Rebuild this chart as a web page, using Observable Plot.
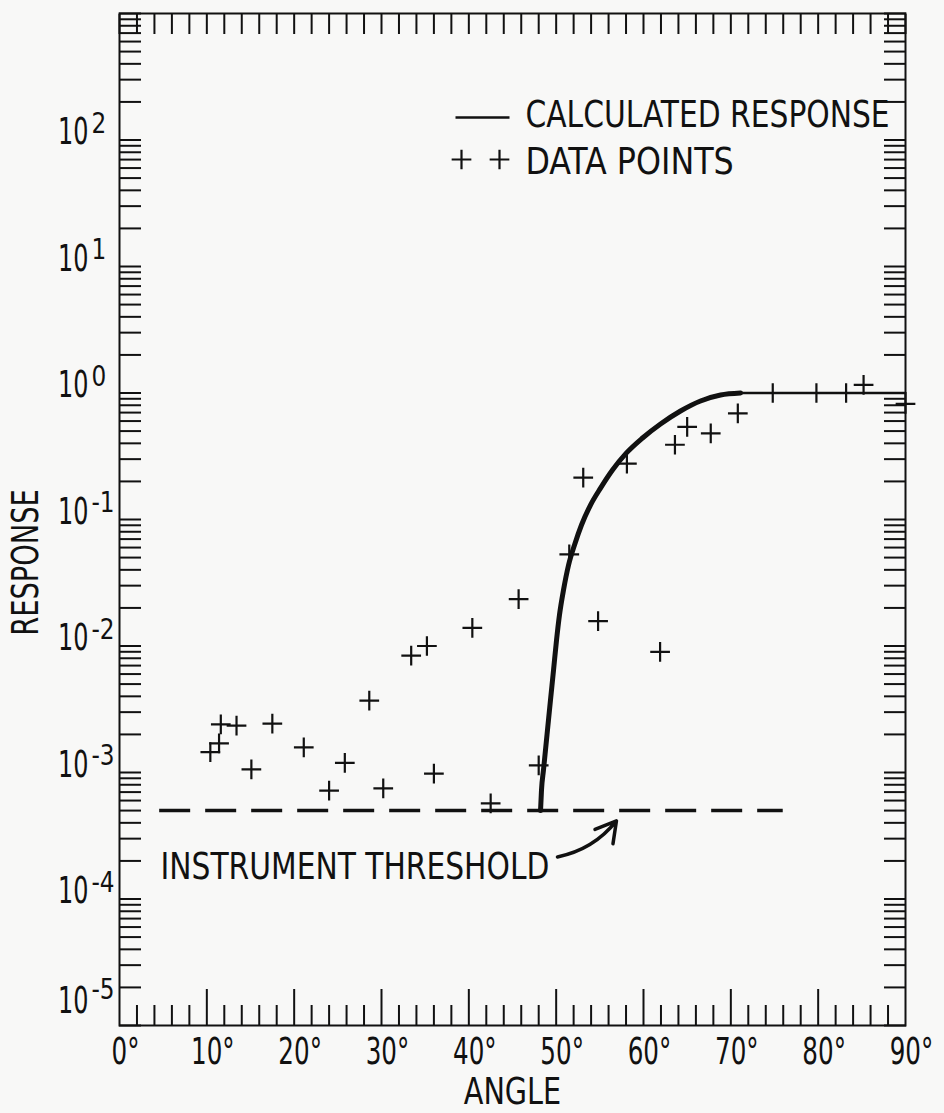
<!DOCTYPE html>
<html>
<head>
<meta charset="utf-8">
<script src="https://cdn.jsdelivr.net/npm/d3@7"></script>
<script src="https://cdn.jsdelivr.net/npm/@observablehq/plot@0.6"></script>
<style>
  html, body { margin: 0; padding: 0; background: #f8f8f7; }
  #chart { width: 944px; height: 1113px; }
</style>
</head>
<body>
<div id="chart"></div>
<script>
// ---------- data ----------
// measured data points (angle in degrees, response)
const pointAngle = [10.4, 11.4, 11.6, 13.4, 15.1, 17.5, 21.1, 24.0, 25.8, 28.6, 30.2, 33.4, 35.2, 36.0,
                    40.4, 42.5, 45.7, 48.0, 51.5, 53.1, 54.8, 58.1, 61.9, 63.6, 65.0, 67.7, 70.8,
                    74.8, 79.8, 83.2, 85.2, 90.0];
const pointResponse = [1.45e-3, 1.7e-3, 2.4e-3, 2.35e-3, 1.06e-3, 2.43e-3, 1.58e-3, 7.2e-4, 1.19e-3, 3.7e-3, 7.5e-4, 8.4e-3, 1.0e-2, 9.8e-4,
                       1.39e-2, 5.7e-4, 2.35e-2, 1.14e-3, 5.3e-2, 0.214, 1.57e-2, 0.277, 9.0e-3, 0.39, 0.54, 0.48, 0.69,
                       1.0, 1.0, 1.0, 1.16, 0.82];

// calculated response curve
const calcAngle = [48.21, 48.32, 48.55, 48.78, 49.12, 49.35, 49.7, 50.04, 50.38, 50.84, 51.42, 52.1, 52.9,
                   53.93, 55.08, 56.45, 58.05, 59.89, 61.95, 64.24, 66.53, 68.82, 71.11, 90];
const calcResponse = [5.0e-4, 7.27e-4, 1.05e-3, 1.51e-3, 2.6e-3, 3.74e-3, 6.46e-3, 1.11e-2, 1.76e-2, 2.77e-2, 4.37e-2, 6.29e-2, 9.05e-2,
                      0.13, 0.177, 0.246, 0.336, 0.441, 0.569, 0.721, 0.865, 0.964, 1.0, 1.0];

// instrument threshold (dashed line)
const thresholdResponse = 5e-4;
const thresholdAngleStart = 4.6;
const thresholdAngleEnd = 76;

// annotation arrow (from label to threshold line)
const arrowAngle = [50.15, 56.9];
const arrowResponse = [2.15e-4, 4.14e-4];

// tick labels
const xLabelAngles = [0, 10, 20, 30, 40, 50, 60, 70, 80, 90];
const yLabelPowers = [-5, -4, -3, -2, -1, 0, 1, 2];
const xMinorStep = 2;

// ---------- derived tick arrays ----------
const yTicks = [];
for (let k = -5; k <= 2; k++) for (let m = 1; m <= 9; m++) yTicks.push(m * Math.pow(10, k));
yTicks.push(1e3);
const xAll = d3.range(0, 91, xMinorStep);
const xLong = xLabelAngles.filter(d => d > 0 && d < 90);
const xShort = xAll.filter(d => d % 10 !== 0);

const points = pointAngle.map((a, i) => ({angle: a, response: pointResponse[i]}));
const calc = calcAngle.map((a, i) => ({angle: a, response: calcResponse[i]}));
const calcSteep = calc.filter(d => d.angle <= 71.11);
const calcFlat = calc.filter(d => d.angle >= 71.11);
const yLabels = yLabelPowers.map(p => ({v: Math.pow(10, p), p}));

const FONT = '"Liberation Sans Narrow", "DejaVu Sans Condensed", "Arial Narrow", sans-serif';
const INK = "#111";
const FS = 38;

const lineSymbol = {draw(ctx) { ctx.moveTo(-27, 0); ctx.lineTo(27, 0); }};
const T = {fill: INK, fontSize: FS, textAnchor: "middle", lineAnchor: "middle"};

const chart = Plot.plot({
  width: 944,
  height: 1113,
  marginLeft: 119,
  marginRight: 39,
  marginTop: 13,
  marginBottom: 88,
  style: {background: "transparent", fontFamily: FONT, color: INK, overflow: "visible"},
  x: {type: "linear", domain: [0, 90]},
  y: {type: "log", domain: [1e-5, 1e3]},
  marks: [
    // inward ticks on all four sides
    Plot.axisY({anchor: "left", ticks: yTicks, tickSize: -22, fill: "none", label: null, stroke: INK, strokeWidth: 2}),
    Plot.axisY({anchor: "right", ticks: yTicks, tickSize: -22, fill: "none", label: null, stroke: INK, strokeWidth: 2}),
    Plot.axisX({anchor: "top", ticks: xAll, tickSize: -20, fill: "none", label: null, stroke: INK, strokeWidth: 2}),
    Plot.axisX({anchor: "bottom", ticks: xShort, tickSize: -20, fill: "none", label: null, stroke: INK, strokeWidth: 2}),
    Plot.axisX({anchor: "bottom", ticks: xLong, tickSize: -36, fill: "none", label: null, stroke: INK, strokeWidth: 2}),
    Plot.frame({stroke: INK, strokeWidth: 2}),

    // y tick labels: "10" + exponent
    Plot.text(yLabels.filter(d => d.p > -5), {...T, y: "v", text: () => "10", frameAnchor: "left", textAnchor: "end", dx: -31, dy: -8, className: "fit-ten"}),
    Plot.text(yLabels.filter(d => d.p > -5), {...T, y: "v", text: d => String(d.p), frameAnchor: "left", textAnchor: "start", dx: -28, dy: -16, fontSize: 28, className: "fit-exp"}),
    Plot.text(yLabels.filter(d => d.p === -5), {...T, y: "v", text: () => "10", frameAnchor: "left", textAnchor: "end", dx: -31, dy: -25, className: "fit-ten"}),
    Plot.text(yLabels.filter(d => d.p === -5), {...T, y: "v", text: d => String(d.p), frameAnchor: "left", textAnchor: "start", dx: -28, dy: -35, fontSize: 28, className: "fit-exp"}),

    // x tick labels
    Plot.text(xLabelAngles, {...T, x: d => d, text: d => d + "°", frameAnchor: "bottom", lineAnchor: "top", dy: 12, dx: 6, className: "fit-xlab"}),

    // axis titles
    Plot.text(["RESPONSE"], {...T, frameAnchor: "left", rotate: -90, dx: -94, dy: 43, className: "fit-ytitle"}),
    Plot.text(["ANGLE"], {...T, frameAnchor: "bottom", dy: 66, className: "fit-xtitle"}),

    // instrument threshold
    Plot.ruleY([thresholdResponse], {x1: thresholdAngleStart, x2: thresholdAngleEnd, stroke: INK, strokeWidth: 3.5, strokeDasharray: "31,15"}),
    Plot.text(["INSTRUMENT THRESHOLD"], {...T, frameAnchor: "top-left", textAnchor: "start", dx: 41, dy: 853, className: "fit-thresh"}),
    Plot.arrow([0], {x1: () => arrowAngle[0], y1: () => arrowResponse[0], x2: () => arrowAngle[1], y2: () => arrowResponse[1], bend: -20, stroke: INK, strokeWidth: 3.5, headLength: 16}),

    // calculated response
    Plot.line(calcSteep, {x: "angle", y: "response", stroke: INK, strokeWidth: 5, curve: "monotone-x"}),
    Plot.line(calcFlat, {x: "angle", y: "response", stroke: INK, strokeWidth: 2.5}),

    // data points
    Plot.dot(points, {x: "angle", y: "response", symbol: "plus", r: 6.4, stroke: INK, strokeWidth: 2.2, fill: "none"}),

    // legend
    Plot.dot([0], {frameAnchor: "top-left", dx: 363, dy: 104, symbol: lineSymbol, stroke: INK, strokeWidth: 2.5, fill: "none"}),
    Plot.text(["CALCULATED RESPONSE"], {...T, frameAnchor: "top-left", textAnchor: "start", dx: 406, dy: 101, className: "fit-leg1"}),
    Plot.dot([0], {frameAnchor: "top-left", dx: 342, dy: 146, symbol: "plus", r: 6.4, stroke: INK, strokeWidth: 2.2, fill: "none"}),
    Plot.dot([0], {frameAnchor: "top-left", dx: 380, dy: 146, symbol: "plus", r: 6.4, stroke: INK, strokeWidth: 2.2, fill: "none"}),
    Plot.text(["DATA POINTS"], {...T, frameAnchor: "top-left", textAnchor: "start", dx: 406, dy: 148, className: "fit-leg2"})
  ]
});

document.getElementById("chart").appendChild(chart);

// condense the type horizontally (about each text's own anchor), like the original's condensed face
const squeeze = {"fit-ten": 0.7, "fit-exp": 0.92, "fit-xlab": 0.72, "fit-ytitle": 0.8, "fit-xtitle": 0.84,
                 "fit-thresh": 0.87, "fit-leg1": 0.87, "fit-leg2": 0.93};
for (const [cls, k] of Object.entries(squeeze)) {
  d3.select(chart).selectAll(`g.${cls} text`).each(function () {
    const tr = this.getAttribute("transform") || "";
    const x = +this.getAttribute("x") || 0;
    this.setAttribute("transform", `${tr} translate(${x},0) scale(${k},1) translate(${-x},0)`);
  });
}
</script>
</body>
</html>
